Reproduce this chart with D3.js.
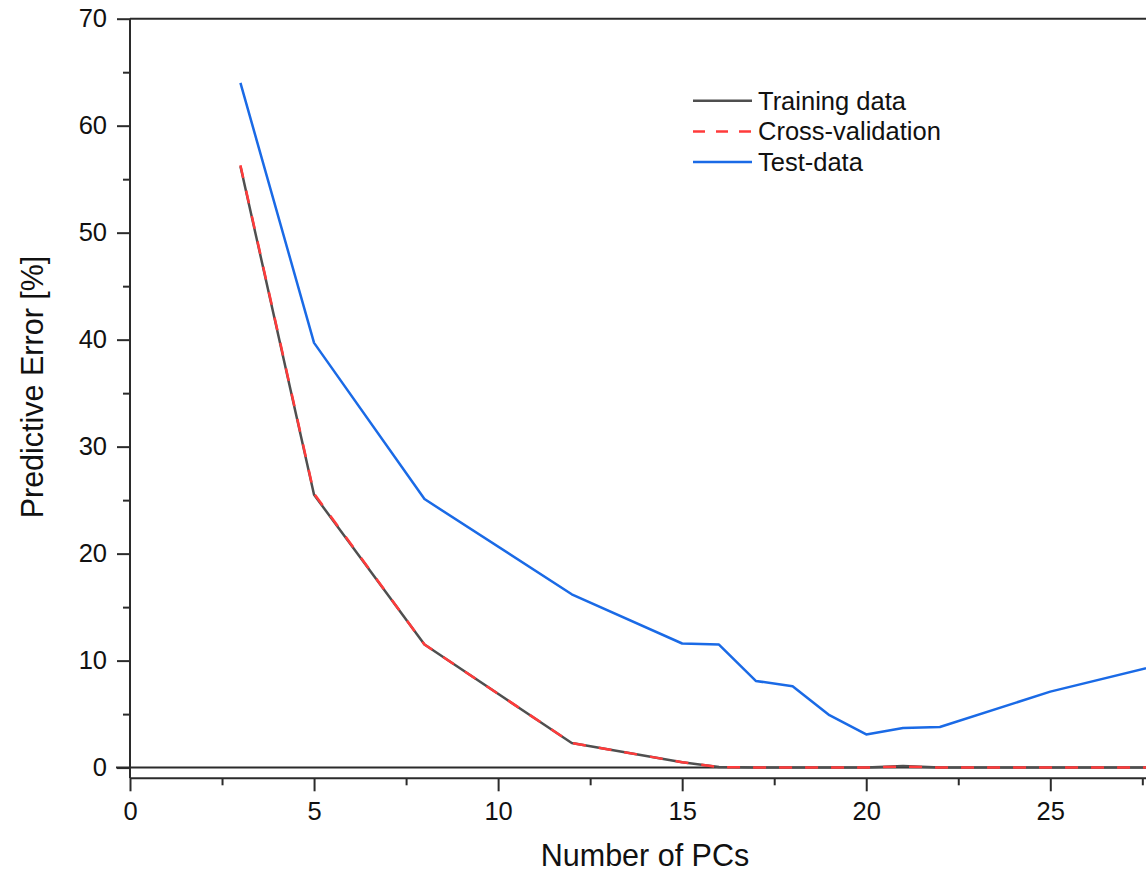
<!DOCTYPE html>
<html>
<head>
<meta charset="utf-8">
<script src="https://cdn.jsdelivr.net/npm/d3@7"></script>
<style>
  html, body { margin: 0; padding: 0; background: #fff; }
  svg { display: block; font-family: "Liberation Sans", Arial, sans-serif; }
</style>
</head>
<body>
<svg id="chart" width="1146" height="877"></svg>
<script>
// ---- data ----
const pcs = [3, 5, 8, 12, 15, 16, 17, 18, 19, 20, 21, 22, 25, 30];
const trainingData = [56.2, 25.5, 11.5, 2.3, 0.5, 0.05, 0, 0, 0, 0, 0.15, 0, 0, 0];
const crossValidation = [56.3, 25.6, 11.5, 2.3, 0.5, 0.05, 0, 0, 0, 0, 0.1, 0, 0, 0];
const testData = [64.0, 39.7, 25.1, 16.2, 11.6, 11.5, 8.1, 7.6, 4.9, 3.1, 3.7, 3.8, 7.1, 11.3];
const xTicks = [0, 5, 10, 15, 20, 25];
const yTicks = [0, 10, 20, 30, 40, 50, 60, 70];
const seriesNames = ["Training data", "Cross-validation", "Test-data"];

// ---- layout ----
const svg = d3.select("#chart");
const pLeft = 130, pRight = 1146, pTop = 18.7, pBottom = 778.3;
const x = d3.scaleLinear().domain([0, 27.6]).range([pLeft, pRight]);
const y = d3.scaleLinear().domain([-1, 70]).range([pBottom, pTop]);
const axisColor = "#2b2b2b";
const fontFam = "'Liberation Sans', Arial, sans-serif";

svg.append("defs").append("clipPath").attr("id", "clip")
  .append("rect").attr("x", pLeft).attr("y", pTop).attr("width", pRight - pLeft).attr("height", pBottom - pTop);

// zero line
svg.append("line")
  .attr("x1", pLeft - 14).attr("x2", pRight)
  .attr("y1", y(0)).attr("y2", y(0))
  .attr("stroke", axisColor).attr("stroke-width", 2);

// top frame
svg.append("line")
  .attr("x1", pLeft).attr("x2", pRight)
  .attr("y1", pTop).attr("y2", pTop)
  .attr("stroke", axisColor).attr("stroke-width", 2);

// x axis
const xAxis = svg.append("g").attr("transform", `translate(0,${pBottom})`)
  .call(d3.axisBottom(x).tickValues(xTicks).tickSize(13).tickPadding(11).tickFormat(d3.format("d")));
svg.append("g").attr("transform", `translate(0,${pBottom})`)
  .call(d3.axisBottom(x).tickValues(d3.range(2.5, 27.6, 5)).tickSize(7).tickFormat(""))
  .call(g => g.select(".domain").remove());

// y axis
const yAxis = svg.append("g").attr("transform", `translate(${pLeft},0)`)
  .call(d3.axisLeft(y).tickValues(yTicks).tickSize(13).tickPadding(10).tickFormat(d3.format("d")));
svg.append("g").attr("transform", `translate(${pLeft},0)`)
  .call(d3.axisLeft(y).tickValues(d3.range(5, 70, 10)).tickSize(7).tickFormat(""))
  .call(g => g.select(".domain").remove());

svg.selectAll(".domain").attr("stroke", axisColor).attr("stroke-width", 2);
svg.selectAll(".tick line").attr("stroke", axisColor).attr("stroke-width", 2);
svg.selectAll(".tick text").attr("fill", "#111").style("font-size", "25.5px")
  .style("font-family", fontFam);
xAxis.select(".domain").attr("d", `M${pLeft},0H${pRight}`);
yAxis.select(".domain").attr("d", `M0,${pTop}V${pBottom}`);

// axis titles
svg.append("text")
  .attr("x", 645).attr("y", 866)
  .attr("text-anchor", "middle").attr("fill", "#111")
  .style("font-size", "30.5px").style("font-family", fontFam).text("Number of PCs");
svg.append("text")
  .attr("transform", `translate(43,387) rotate(-90)`)
  .attr("text-anchor", "middle").attr("fill", "#111")
  .style("font-size", "30.5px").style("font-family", fontFam).text("Predictive Error [%]");

// lines
const line = d3.line().x(d => x(d[0])).y(d => y(d[1]));
const plot = svg.append("g").attr("clip-path", "url(#clip)");
const styles = [
  { vals: trainingData, color: "#4f4f4f", dash: null },
  { vals: crossValidation, color: "#ff3b3b", dash: "13,13" },
  { vals: testData, color: "#1a6ae6", dash: null }
];
styles.forEach(s => {
  plot.append("path")
    .datum(pcs.map((p, i) => [p, s.vals[i]]))
    .attr("d", line)
    .attr("fill", "none")
    .attr("stroke", s.color)
    .attr("stroke-width", 2.5)
    .attr("stroke-linejoin", "round")
    .attr("stroke-dasharray", s.dash);
});

// legend
const legend = svg.append("g");
seriesNames.forEach((name, i) => {
  const yy = 100.7 + i * 30.7;
  legend.append("line")
    .attr("x1", 693).attr("x2", 752).attr("y1", yy).attr("y2", yy)
    .attr("stroke", styles[i].color).attr("stroke-width", 2.5)
    .attr("stroke-dasharray", styles[i].dash ? "12,11" : null);
  legend.append("text")
    .attr("x", 758).attr("y", yy).attr("dy", "0.35em")
    .attr("fill", "#111").style("font-size", "25.5px").style("font-family", fontFam).text(name);
});
</script>
</body>
</html>
